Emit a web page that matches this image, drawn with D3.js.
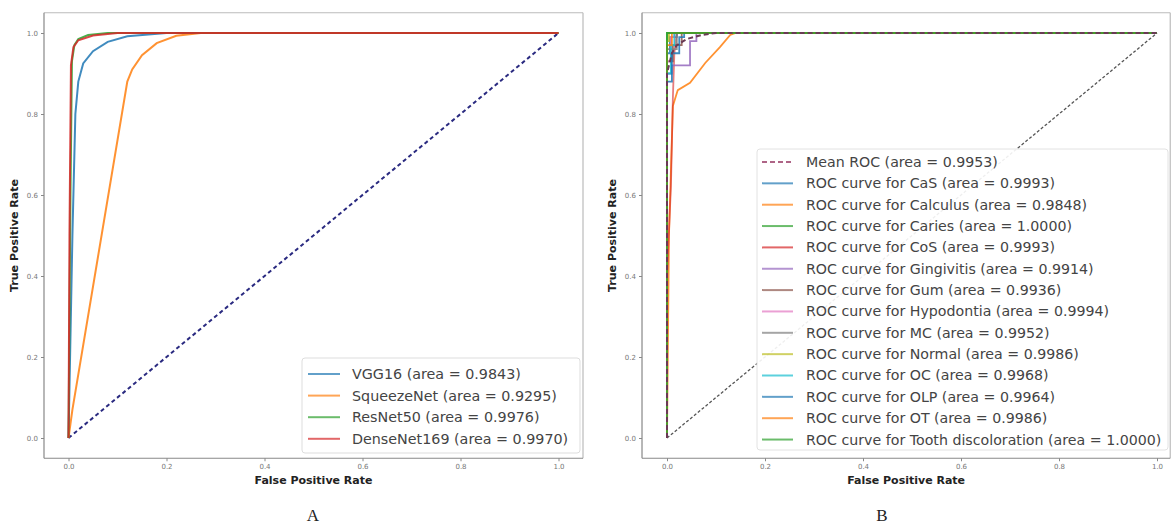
<!DOCTYPE html>
<html><head><meta charset="utf-8">
<script src="https://cdn.jsdelivr.net/npm/d3@7"></script>
<style>body{margin:0;background:#fff}svg{display:block;font-family:"DejaVu Sans",sans-serif}</style>
</head><body><svg id="c" width="1176" height="527"></svg>
<script>
// ---------- Data ----------
const tickValues = [0.0, 0.2, 0.4, 0.6, 0.8, 1.0];
// Panel A
const modelNames = ["VGG16", "SqueezeNet", "ResNet50", "DenseNet169"];
const modelAreas = ["0.9843", "0.9295", "0.9976", "0.9970"];
const modelColors = ["#1f77b4", "#ff7f0e", "#2ca02c", "#d62728"];
const vgg16Roc = [[0,0],[0.008,0.5],[0.014,0.8],[0.02,0.88],[0.03,0.925],[0.05,0.955],[0.08,0.978],[0.12,0.992],[0.2,1],[1,1]];
const squeezeRoc = [[0,0],[0.008,0.07],[0.12,0.88],[0.13,0.91],[0.15,0.945],[0.18,0.975],[0.22,0.993],[0.27,1],[1,1]];
const resnetRoc = [[0,0],[0.004,0.6],[0.007,0.93],[0.012,0.97],[0.02,0.985],[0.04,0.995],[0.08,1],[1,1]];
const densenetRoc = [[0,0],[0.002,0.5],[0.005,0.92],[0.01,0.965],[0.02,0.982],[0.05,0.994],[0.1,1],[1,1]];
const modelCurves = [vgg16Roc, squeezeRoc, resnetRoc, densenetRoc];
// Panel B
const classNames = ["CaS","Calculus","Caries","CoS","Gingivitis","Gum","Hypodontia","MC","Normal","OC","OLP","OT","Tooth discoloration"];
const classAreas = ["0.9993","0.9848","1.0000","0.9993","0.9914","0.9936","0.9994","0.9952","0.9986","0.9968","0.9964","0.9986","1.0000"];
const classColors = ["#1f77b4","#ff7f0e","#2ca02c","#d62728","#9467bd","#8c564b","#e377c2","#7f7f7f","#bcbd22","#17becf","#1f77b4","#ff7f0e","#2ca02c"];
const meanRocArea = "0.9953";
const meanRoc = [[0,0],[0,0.9],[0.01,0.95],[0.02,0.97],[0.04,0.985],[0.07,0.995],[0.1,1],[1,1]];
const casRoc = [[0,0],[0,0.95],[0.006,0.95],[0.006,0.99],[0.02,0.99],[0.02,1],[1,1]];
const calculusRoc = [[0,0],[0.004,0.5],[0.012,0.82],[0.022,0.859],[0.047,0.877],[0.078,0.926],[0.108,0.965],[0.129,0.995],[0.14,1],[1,1]];
const cariesRoc = [[0,0],[0,1],[1,1]];
const cosRoc = [[0,0],[0,0.4],[0.008,0.62],[0.012,0.84],[0.015,0.95],[0.02,1],[1,1]];
const gingivitisRoc = [[0,0],[0,0.9],[0.01,0.9],[0.01,0.92],[0.047,0.92],[0.047,0.98],[0.06,0.98],[0.06,1],[1,1]];
const gumRoc = [[0,0],[0,0.93],[0.012,0.93],[0.012,0.97],[0.03,0.97],[0.03,1],[1,1]];
const hypodontiaRoc = [[0,0],[0,0.93],[0.008,0.93],[0.008,0.99],[0.015,0.99],[0.015,1],[1,1]];
const mcRoc = [[0,0],[0,0.96],[0.02,0.96],[0.02,1],[1,1]];
const normalRoc = [[0,0],[0,0.98],[0.004,0.98],[0.004,1],[1,1]];
const ocRoc = [[0,0],[0,0.9],[0.008,0.9],[0.008,0.97],[0.015,0.97],[0.015,1],[1,1]];
const olpRoc = [[0,0],[0,0.88],[0.01,0.88],[0.01,0.95],[0.025,0.95],[0.025,0.99],[0.035,0.99],[0.035,1],[1,1]];
const otRoc = [[0,0],[0,0.97],[0.01,0.97],[0.01,1],[1,1]];
const toothRoc = [[0,0],[0,1],[1,1]];
const classCurves = [casRoc,calculusRoc,cariesRoc,cosRoc,gingivitisRoc,gumRoc,hypodontiaRoc,mcRoc,normalRoc,ocRoc,olpRoc,otRoc,toothRoc];
const chanceLine = [[0,0],[1,1]];

// ---------- Drawing ----------
const svg = d3.select("#c");
svg.append("rect").attr("width",1176).attr("height",527).attr("fill","#fff");

function panel(cfg){
  const x = d3.scaleLinear().domain([0,1]).range([cfg.x0, cfg.x1]);
  const y = d3.scaleLinear().domain([0,1]).range([cfg.y0, cfg.y1]);
  const g = svg.append("g");
  const fl = x(cfg.fxmin), fr = x(cfg.fxmax), ft = y(1.05), fb = y(-0.05);
  const line = d3.line().x(d=>x(d[0])).y(d=>y(d[1]));
  cfg.draw(g, line, x, y);
  // frame
  g.append("line").attr("x1",fl).attr("x2",fr).attr("y1",ft).attr("y2",ft).attr("stroke","#bbb").attr("stroke-width",1.2);
  g.append("line").attr("x1",fr).attr("x2",fr).attr("y1",ft).attr("y2",fb).attr("stroke","#bbb").attr("stroke-width",1.2);
  g.append("line").attr("x1",fl).attr("x2",fl).attr("y1",ft).attr("y2",fb).attr("stroke","#888").attr("stroke-width",1.2);
  g.append("line").attr("x1",fl).attr("x2",fr).attr("y1",fb).attr("y2",fb).attr("stroke","#888").attr("stroke-width",1.2);
  // axes
  const xa = g.append("g").attr("transform",`translate(0,${fb})`)
    .call(d3.axisBottom(x).tickValues(tickValues).tickFormat(d3.format(".1f")).tickSize(3).tickPadding(3));
  const ya = g.append("g").attr("transform",`translate(${fl},0)`)
    .call(d3.axisLeft(y).tickValues(tickValues).tickFormat(d3.format(".1f")).tickSize(3).tickPadding(3));
  [xa,ya].forEach(a=>{
    a.select(".domain").remove();
    a.selectAll(".tick line").attr("stroke","#888");
    a.selectAll(".tick text").attr("fill","#777").style("font-size","7px").style("font-family","DejaVu Sans");
  });
  g.append("text").attr("x",(fl+fr)/2).attr("y",484).attr("text-anchor","middle")
    .style("font-size","11px").style("font-weight","bold").attr("fill","#222").text("False Positive Rate");
  g.append("text").attr("transform",`translate(${fl-26},${(ft+fb)/2}) rotate(-90)`).attr("text-anchor","middle")
    .style("font-size","11px").style("font-weight","bold").attr("fill","#222").text("True Positive Rate");
  g.append("text").attr("x",cfg.letterX).attr("y",521).attr("text-anchor","middle")
    .style("font-family","Liberation Serif, serif").style("font-size","17px").attr("fill","#222").text(cfg.letter);
}

// Panel A
panel({x0:68.5,x1:558.5,y0:438,y1:33,fxmin:-0.05,fxmax:1.05,letter:"A",letterX:313,
  draw:(g,line,x,y)=>{
    g.append("path").datum(chanceLine).attr("d",line).attr("fill","none")
      .attr("stroke","#2a2a80").attr("stroke-width",2).attr("stroke-dasharray","4,3");
    modelCurves.forEach((c,i)=>{
      g.append("path").datum(c).attr("d",line).attr("fill","none")
        .attr("stroke",modelColors[i]).attr("stroke-width",2).attr("stroke-opacity",0.85);
    });
    // legend
    const lg = g.append("g");
    lg.append("rect").attr("x",302).attr("y",358).attr("width",278).attr("height",95).attr("rx",3)
      .attr("fill","#fff").attr("fill-opacity",0.85).attr("stroke","#ddd");
    modelNames.forEach((n,i)=>{
      const yy = 374 + i*21.6;
      lg.append("line").attr("x1",308).attr("x2",340).attr("y1",yy).attr("y2",yy)
        .attr("stroke",modelColors[i]).attr("stroke-width",2).attr("stroke-opacity",0.7);
      lg.append("text").attr("x",352).attr("y",yy).attr("dy","0.35em").style("font-size","14.3px")
        .attr("fill","#444").text(`${n} (area = ${modelAreas[i]})`);
    });
  }});

// Panel B
panel({x0:667,x1:1157,y0:438,y1:33,fxmin:-0.051,fxmax:1.027,letter:"B",letterX:882,
  draw:(g,line,x,y)=>{
    g.append("path").datum(chanceLine).attr("d",line).attr("fill","none")
      .attr("stroke","#555").attr("stroke-width",1.3).attr("stroke-dasharray","3,2");
    classCurves.forEach((c,i)=>{
      g.append("path").datum(c).attr("d",line).attr("fill","none")
        .attr("stroke",classColors[i]).attr("stroke-width",1.8).attr("stroke-opacity",i===3?0.6:0.85);
    });
    g.append("path").datum(meanRoc).attr("d",line).attr("fill","none")
      .attr("stroke","#6a3a55").attr("stroke-width",2).attr("stroke-dasharray","5,3");
    const lg = g.append("g");
    lg.append("rect").attr("x",757).attr("y",149).attr("width",411).attr("height",301).attr("rx",3)
      .attr("fill","#fff").attr("fill-opacity",0.9).attr("stroke","#e2e2e2");
    const labels = [`Mean ROC (area = ${meanRocArea})`].concat(classNames.map((n,i)=>`ROC curve for ${n} (area = ${classAreas[i]})`));
    labels.forEach((t,i)=>{
      const yy = 162 + i*21.35;
      const ln = lg.append("line").attr("x1",762).attr("x2",793).attr("y1",yy).attr("y2",yy)
        .attr("stroke", i===0 ? "#8b2252" : classColors[i-1]).attr("stroke-width",2).attr("stroke-opacity",0.7);
      if(i===0) ln.attr("stroke-dasharray","5,3");
      lg.append("text").attr("x",806).attr("y",yy).attr("dy","0.35em").style("font-size","14.2px")
        .attr("fill","#444").text(t);
    });
  }});
</script></body></html>
